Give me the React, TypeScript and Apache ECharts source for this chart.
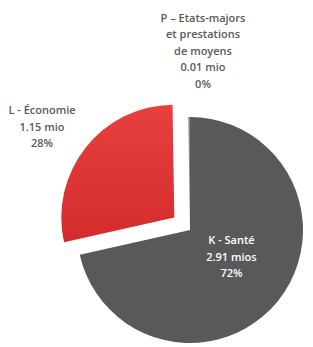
import React, { useEffect, useRef } from "react";
import * as echarts from "echarts";

const categories = ["K - Santé", "L - Économie", "P – Etats-majors\net prestations\nde moyens"];
const amounts = [2.91, 1.15, 0.01];
const amountLabels = ["2.91 mios", "1.15 mio", "0.01 mio"];
const percentLabels = ["72%", "28%", "0%"];
const colors = ["#595959", "#e0393a", "#8c8c8c"];

export default function App() {
  const ref = useRef<HTMLDivElement>(null);
  useEffect(() => {
    if (!ref.current) return;
    const chart = echarts.init(ref.current, null, { renderer: "svg" });
    const outsidePos: Record<number, [number, number]> = {
      1: [42, 126],
      2: [203, 50],
    };
    const textStyle = {
      fill: "#595959",
      font: "600 11px 'Open Sans'",
      lineHeight: 16.5,
      align: "center",
      verticalAlign: "middle",
    };
    chart.setOption({
      animation: false,
      graphic: [1, 2].map((i) => ({
        type: "text",
        x: outsidePos[i][0],
        y: outsidePos[i][1],
        style: {
          ...textStyle,
          text: `${categories[i]}\n${amountLabels[i]}\n${percentLabels[i]}`,
        },
      })),
      series: [
        {
          type: "pie",
          center: [190, 230],
          radius: 113,
          startAngle: 90,
          clockwise: true,
          selectedMode: "multiple",
          selectedOffset: 20,
          avoidLabelOverlap: false,
          labelLine: { show: false },
          emphasis: { disabled: true },
          data: categories.map((c, i) => ({
            name: c,
            value: amounts[i],
            selected: i === 1,
            itemStyle: {
              color:
                i === 1
                  ? new echarts.graphic.LinearGradient(0, 0, 0, 1, [
                      { offset: 0, color: "#e8403f" },
                      { offset: 1, color: "#d42c2c" },
                    ])
                  : colors[i],
            },
            label:
              i === 0
                ? {
                    show: true,
                    position: "inside",
                    offset: [-5, -11],
                    color: "#ffffff",
                    fontFamily: "Open Sans",
                    fontSize: 11,
                    fontWeight: 600,
                    lineHeight: 16.5,
                    align: "center",
                    formatter: () => `${c}\n${amountLabels[i]}\n${percentLabels[i]}`,
                  }
                : { show: false },
          })),
        },
      ],
    });
    return () => chart.dispose();
  }, []);
  return (
    <div
      ref={ref}
      style={{ position: "fixed", left: 0, top: 0, width: 313, height: 347, background: "#ffffff" }}
    />
  );
}
